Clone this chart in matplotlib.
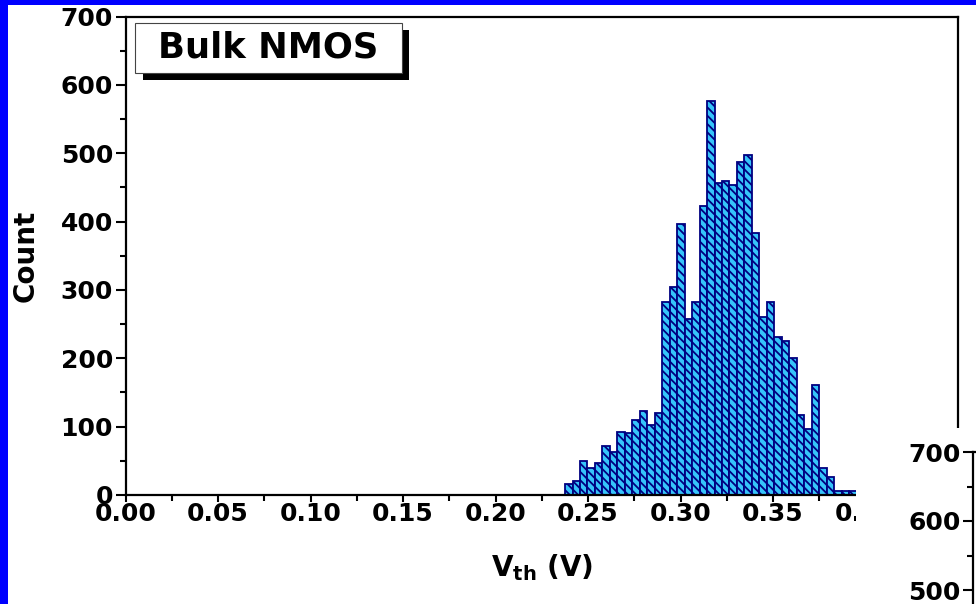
import matplotlib
matplotlib.use('Agg')
import matplotlib.pyplot as plt
import numpy as np
from matplotlib.patches import Rectangle
from matplotlib.ticker import MultipleLocator, FixedLocator

W, H = 976, 604

# histogram of threshold voltages
bin_start = 0.2376
bin_width = 0.00404
counts = [16, 21, 50, 40, 47, 71, 63, 92, 91, 109, 123, 102, 120,
          282, 304, 397, 258, 282, 423, 577, 456, 460, 453, 487, 498,
          383, 260, 282, 231, 225, 201, 117, 97, 161, 39, 27, 6, 6, 6]

x_ticks = [0.00, 0.05, 0.10, 0.15, 0.20, 0.25, 0.30, 0.35, 0.40]
y_ticks = [0, 100, 200, 300, 400, 500, 600, 700]
side_ticks = [500, 600, 700]

label = 'Bulk NMOS'

plt.rcParams['font.family'] = 'DejaVu Sans'
plt.rcParams['font.weight'] = 'bold'
plt.rcParams['hatch.color'] = '#00007a'
plt.rcParams['hatch.linewidth'] = 1.3


def fx(x):
    return x / W


def fy(y):
    return 1 - y / H


def style_axis(a):
    for s in a.spines.values():
        s.set_linewidth(1.6)
    a.tick_params(axis='y', which='major', direction='out', length=7, width=1.5,
                  pad=2, labelsize=18)
    a.tick_params(axis='y', which='minor', direction='out', length=4, width=1.5)
    a.yaxis.set_minor_locator(MultipleLocator(50))


fig = plt.figure(figsize=(W / 100, H / 100), dpi=100)
fig.patch.set_facecolor('white')

ax = fig.add_axes([fx(125.5), fy(495), fx(958) - fx(125.5), (495 - 16.5) / H])
edges = bin_start + bin_width * np.arange(len(counts))
ax.bar(edges, counts, width=bin_width, align='edge', facecolor='#36c4fa',
       edgecolor='#000080', linewidth=1.3, hatch='\\\\\\\\')
ax.set_xlim(0, 0.45)
ax.set_ylim(0, 700)
ax.set_xticks(x_ticks)
ax.set_xticklabels(['%.2f' % v for v in x_ticks])
ax.xaxis.set_minor_locator(MultipleLocator(0.025))
ax.set_yticks(y_ticks)
style_axis(ax)
ax.tick_params(axis='x', which='major', direction='out', length=5, width=1.5,
               pad=0, labelsize=18)
ax.tick_params(axis='x', which='minor', direction='out', length=4, width=1.5)
ax.set_ylabel('Count', fontsize=20, fontweight='bold', labelpad=15)
ax.set_xlabel(r'$\mathbf{V_{th}}$ (V)', fontsize=20, fontweight='bold', labelpad=19)

# label box with a drop shadow
fig.add_artist(Rectangle((fx(143), fy(80)), fx(409) - fx(143), (80 - 30) / H,
                         transform=fig.transFigure, facecolor='black',
                         edgecolor='none', zorder=5))
fig.add_artist(Rectangle((fx(135), fy(73)), fx(402) - fx(135), (73 - 23) / H,
                         transform=fig.transFigure, facecolor='white',
                         edgecolor='#444444', linewidth=0.8, zorder=6))
fig.text(fx(268), fy(48), label, ha='center', va='center', fontsize=25.5,
         fontweight='bold', zorder=7)

# neighbouring panel, laid over the lower right corner
cover = fig.add_axes([fx(856), 0, 1 - fx(856), (H - 428) / H])
cover.set_facecolor('white')
cover.set_xticks([])
cover.set_yticks([])
for s in cover.spines.values():
    s.set_visible(False)

ax2 = fig.add_axes([fx(973), fy(935), 0.1, (935 - 452) / H])
ax2.set_ylim(0, 700)
ax2.set_xlim(0, 1)
ax2.yaxis.set_major_locator(FixedLocator(side_ticks))
style_axis(ax2)
ax2.set_xticks([])
ax2.spines['right'].set_visible(False)

# blue frame along the top and left edges
fig.add_artist(Rectangle((0, 0), fx(8), 1, transform=fig.transFigure,
                         facecolor='#0000ff', edgecolor='none', zorder=10))
fig.add_artist(Rectangle((0, fy(5)), 1, 5 / H, transform=fig.transFigure,
                         facecolor='#0000ff', edgecolor='none', zorder=10))

fig.savefig('out.png', dpi=100)
